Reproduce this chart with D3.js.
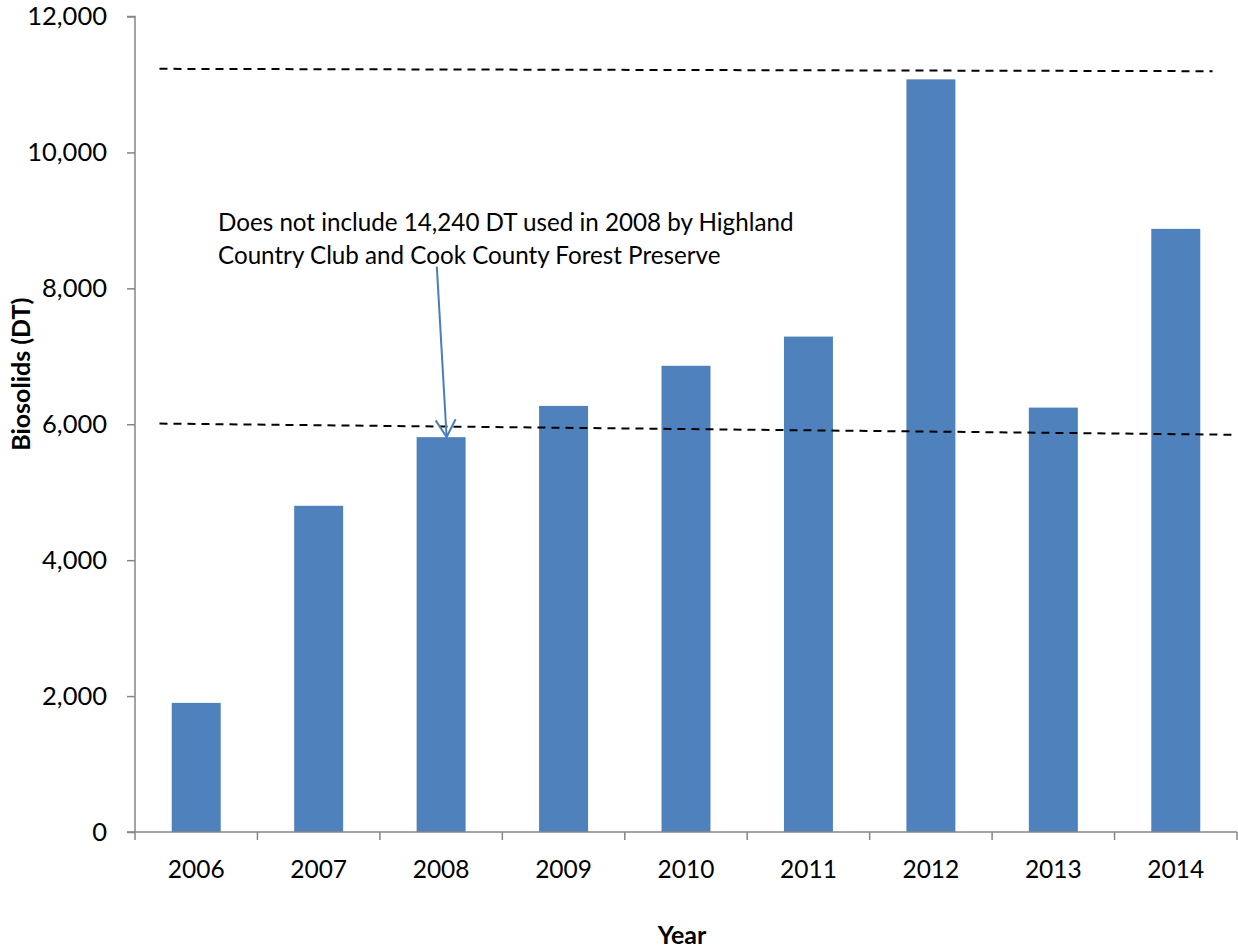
<!DOCTYPE html>
<html>
<head>
<meta charset="utf-8">
<script src="https://cdn.jsdelivr.net/npm/d3@7"></script>
<style>
  html, body { margin: 0; padding: 0; background: #fff; }
  svg { display: block; }
  text { font-family: Lato, "Open Sans", sans-serif; fill: #000; }
</style>
</head>
<body>
<svg id="chart" width="1238" height="952"></svg>
<script>
// ---- data ----
const years = ["2006", "2007", "2008", "2009", "2010", "2011", "2012", "2013", "2014"];
const biosolids = [1900, 4800, 5810, 6270, 6860, 7290, 11075, 6245, 8875];
const yTicks = [0, 2000, 4000, 6000, 8000, 10000, 12000];
// dashed reference lines: [startIndex, startValue, endIndex, endValue] (index in category units)
const upperLine = [0.2, 11230, 8.8, 11195];
const lowerLine = [0.2, 6010, 9.0, 5845];
const annotationLines = [
  "Does not include 14,240 DT used in 2008 by Highland",
  "Country Club and Cook County Forest Preserve"
];
// arrow: tail and tip, in category index / value units
const arrowTail = [2.465, 8320];
const arrowTip = [2.545, 5812];

// ---- layout ----
const W = 1238, H = 952;
const plot = { left: 135, right: 1237, top: 16.5, bottom: 832 };
const svg = d3.select("#chart");

const x = d3.scaleBand().domain(years).range([plot.left, plot.right])
  .paddingInner(0.6).paddingOuter(0.3);
const xi = d3.scaleLinear().domain([0, years.length]).range([plot.left, plot.right]);
const y = d3.scaleLinear().domain([0, 12000]).range([plot.bottom, plot.top]);

const axisColor = "#868686";

// bars
svg.append("g").selectAll("rect").data(years).join("rect")
  .attr("x", d => x(d))
  .attr("y", (d, i) => y(biosolids[i]))
  .attr("width", x.bandwidth())
  .attr("height", (d, i) => y(0) - y(biosolids[i]))
  .attr("fill", "#4f81bd");

// y axis
const yAxis = d3.axisLeft(y).tickValues(yTicks).tickFormat(d3.format(",")).tickSize(8).tickPadding(20);
const gy = svg.append("g").attr("transform", `translate(${plot.left},0)`).call(yAxis);
gy.select(".domain").attr("stroke", axisColor).attr("stroke-width", 1.5)
  .attr("d", `M-8,${plot.top}H0V${plot.bottom}`);
gy.selectAll(".tick line").attr("stroke", axisColor).attr("stroke-width", 1.5);
gy.selectAll(".tick text").attr("font-family", "Lato").attr("font-size", 25.5).attr("fill", "#000");

// x axis (ticks at category boundaries)
const gx = svg.append("g").attr("transform", `translate(0,${plot.bottom})`);
gx.append("path").attr("d", `M${plot.left - 8},0H${plot.right}`)
  .attr("stroke", axisColor).attr("stroke-width", 1.5).attr("fill", "none");
gx.selectAll("line.bound").data(d3.range(years.length + 1)).join("line")
  .attr("class", "bound")
  .attr("x1", i => xi(i)).attr("x2", i => xi(i))
  .attr("y1", 0).attr("y2", 8)
  .attr("stroke", axisColor).attr("stroke-width", 1.5);
gx.selectAll("text").data(years).join("text")
  .attr("x", d => x(d) + x.bandwidth() / 2)
  .attr("y", 46)
  .attr("text-anchor", "middle")
  .attr("font-size", 24.5)
  .text(d => d);

// dashed reference lines
[upperLine, lowerLine].forEach(l => {
  svg.append("line")
    .attr("x1", xi(l[0])).attr("y1", y(l[1]))
    .attr("x2", xi(l[2])).attr("y2", y(l[3]))
    .attr("stroke", "#000").attr("stroke-width", 2)
    .attr("stroke-dasharray", "8,6");
});

// annotation text
const ann = svg.append("text").attr("x", 218).attr("y", 231).attr("font-size", 24.2);
annotationLines.forEach((t, i) => {
  ann.append("tspan").attr("x", 218).attr("dy", i === 0 ? 0 : 33).text(t);
});

// arrow
svg.append("defs").append("marker")
  .attr("id", "head").attr("markerUnits", "userSpaceOnUse")
  .attr("viewBox", "-20 -12 22 24").attr("refX", 0).attr("refY", 0)
  .attr("markerWidth", 22).attr("markerHeight", 24).attr("orient", "auto")
  .append("path").attr("d", "M-17.3,-10L0,0L-17.3,10")
  .attr("fill", "none").attr("stroke", "#4a7ebb").attr("stroke-width", 2);
svg.append("line")
  .attr("x1", xi(arrowTail[0])).attr("y1", y(arrowTail[1]))
  .attr("x2", xi(arrowTip[0])).attr("y2", y(arrowTip[1]))
  .attr("stroke", "#4a7ebb").attr("stroke-width", 2)
  .attr("marker-end", "url(#head)");

// axis titles
svg.append("text")
  .attr("transform", `translate(30,${(plot.top + plot.bottom) / 2 - 50}) rotate(-90)`)
  .attr("text-anchor", "middle").attr("font-weight", "bold").attr("font-size", 25)
  .text("Biosolids (DT)");
svg.append("text")
  .attr("x", 682).attr("y", 944)
  .attr("text-anchor", "middle").attr("font-weight", "bold").attr("font-size", 25)
  .text("Year");
</script>
</body>
</html>
